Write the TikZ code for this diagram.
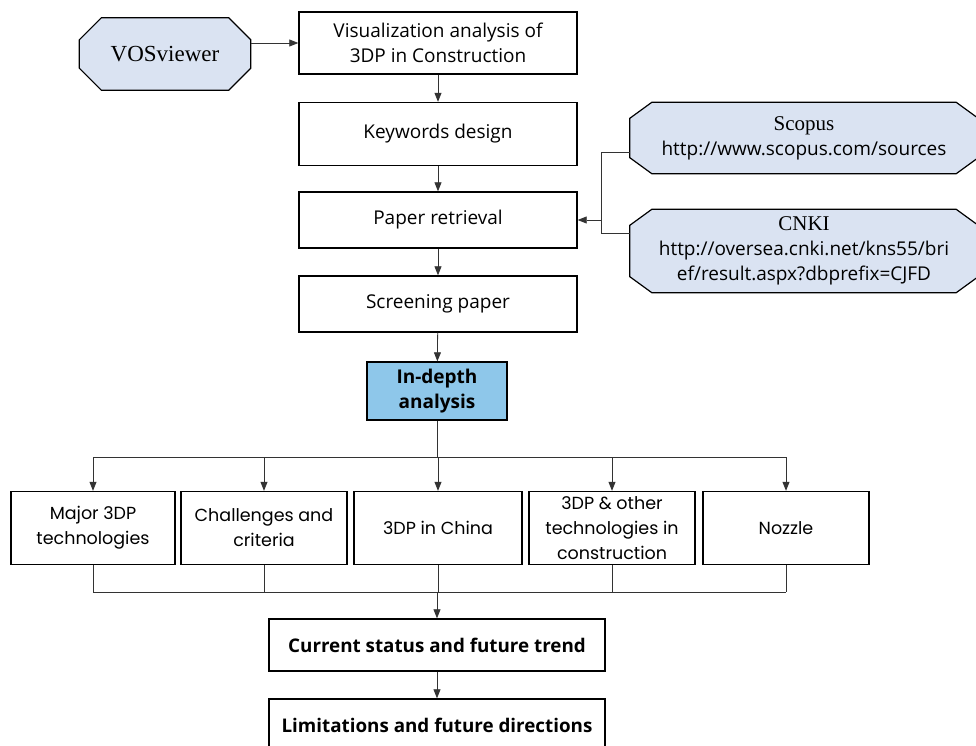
\documentclass[tikz,border=0pt]{standalone}
\usepackage{fontspec}
\setmainfont{Open Sans}
\newfontfamily\rowfont{Poppins}
\newfontfamily\serfont{Liberation Serif}
\usetikzlibrary{arrows.meta,backgrounds}
\definecolor{octfill}{RGB}{218,227,242}
\definecolor{keyfill}{RGB}{142,199,234}

%% octagon round a node: name, x chamfer, y chamfer
\newcommand{\octagon}[3]{%
  \draw[octline] ([xshift=#2]#1.north west) -- ([xshift=-#2]#1.north east)
    -- ([yshift=-#3]#1.north east) -- ([yshift=#3]#1.south east)
    -- ([xshift=-#2]#1.south east) -- ([xshift=#2]#1.south west)
    -- ([yshift=#3]#1.south west) -- ([yshift=-#3]#1.north west) -- cycle;}

\begin{document}
\begin{tikzpicture}[x=1pt,y=1pt,
  every node/.style={font=\fontsize{19}{25}\selectfont, align=center, inner sep=1pt},
  stepbox/.style={draw, line width=1.4pt},
  rowbox/.style={stepbox, minimum width=166pt, minimum height=73pt,
    font=\rowfont\fontsize{17.5}{25}\selectfont},
  octbox/.style={inner sep=0pt},
  octline/.style={draw, line width=1.2pt, fill=octfill},
  link/.style={line width=0.8pt, draw=black!80},
  arrow/.style={link, -{Triangle[length=9pt,width=7pt]}}]

\newcommand\ROWY{-528}
\newcommand\BUSY{-457}
\newcommand\COLY{-592}

  \useasboundingbox (0,0) rectangle (976,-746);

  %% main column
  \node[stepbox, minimum width=278pt, minimum height=62pt] (vis) at (438,-43)
    {Visualization analysis of\\3DP in Construction};
  \node[stepbox, minimum width=278pt, minimum height=63pt] (kw) at (438,-134)
    {Keywords design};
  \node[stepbox, minimum width=278pt, minimum height=56pt] (ret) at (438,-220)
    {Paper retrieval};
  \node[stepbox, minimum width=278pt, minimum height=56pt] (scr) at (438,-304)
    {Screening paper};
  \node[stepbox, fill=keyfill, minimum width=140pt, minimum height=58pt,
    font=\bfseries\fontsize{19}{25}\selectfont] (depth) at (437,-391)
    {In-depth\\analysis};

  %% sources
  \node[octbox, minimum width=171pt, minimum height=72pt] (vos) at (165,-54)
    {\serfont\fontsize{23}{25}\selectfont VOSviewer};
  \node[octbox, minimum width=348pt, minimum height=71pt] (scopus) at (804,-138)
    {{\serfont\fontsize{21}{25}\selectfont Scopus}\\http://www.scopus.com/sources};
  \node[octbox, minimum width=348pt, minimum height=83pt] (cnki) at (804,-251)
    {{\serfont\fontsize{21}{25}\selectfont CNKI}\\http://oversea.cnki.net/kns55/bri\\ef/result.aspx?dbprefix=CJFD};
  \begin{scope}[on background layer]
    \octagon{vos}{22pt}{22pt}
    \octagon{scopus}{22pt}{16pt}
    \octagon{cnki}{22pt}{16pt}
  \end{scope}

  %% topics
  \node[rowbox, minimum width=164pt] (maj) at (93,\ROWY) {Major 3DP\\technologies};
  \node[rowbox] (chal) at (264,\ROWY) {Challenges and\\criteria};
  \node[rowbox, minimum width=168pt] (china) at (438,\ROWY) {3DP in China};
  \node[rowbox] (other) at (612,\ROWY) {3DP \& other\\technologies in\\construction};
  \node[rowbox] (noz) at (786,\ROWY) {Nozzle};

  %% results
  \node[stepbox, minimum width=336pt, minimum height=52pt,
    font=\bfseries\fontsize{18.8}{25}\selectfont] (cur) at (437,-645)
    {Current status and future trend};
  \node[stepbox, minimum width=336pt, minimum height=52pt,
    font=\bfseries\fontsize{18.8}{25}\selectfont] (lim) at (437,-725)
    {Limitations and future directions};

  \coordinate (bus) at (0,\BUSY);
  \coordinate (col) at (0,\COLY);
  \coordinate (jn) at ([xshift=-28pt]scopus.west |- ret.east);

  %% connectors
  \draw[arrow] (vis.west -| vos.east) -- (vis.west);
  \draw[arrow] (vis) -- (kw);
  \draw[arrow] (kw) -- (ret);
  \draw[arrow] (ret) -- (scr);
  \draw[arrow] (scr) -- (depth);
  \draw[link] ([yshift=-14pt]scopus.west) -| (jn) |- ([yshift=18pt]cnki.west);
  \draw[arrow] (jn) -- (ret.east);

  \draw[link] (depth.south) -- (depth.south |- bus);
  \draw[link] (maj.north |- bus) -- (noz.north |- bus);
  \foreach \b in {maj,chal,china,other,noz}
    \draw[arrow] (\b.north |- bus) -- (\b.north);

  \foreach \b in {maj,chal,china,other,noz}
    \draw[link] (\b.south) -- (\b.south |- col);
  \draw[link] (maj.south |- col) -- (noz.south |- col);
  \draw[arrow] (cur.north |- col) -- (cur.north);
  \draw[arrow] (cur) -- (lim);

\end{tikzpicture}
\end{document}
